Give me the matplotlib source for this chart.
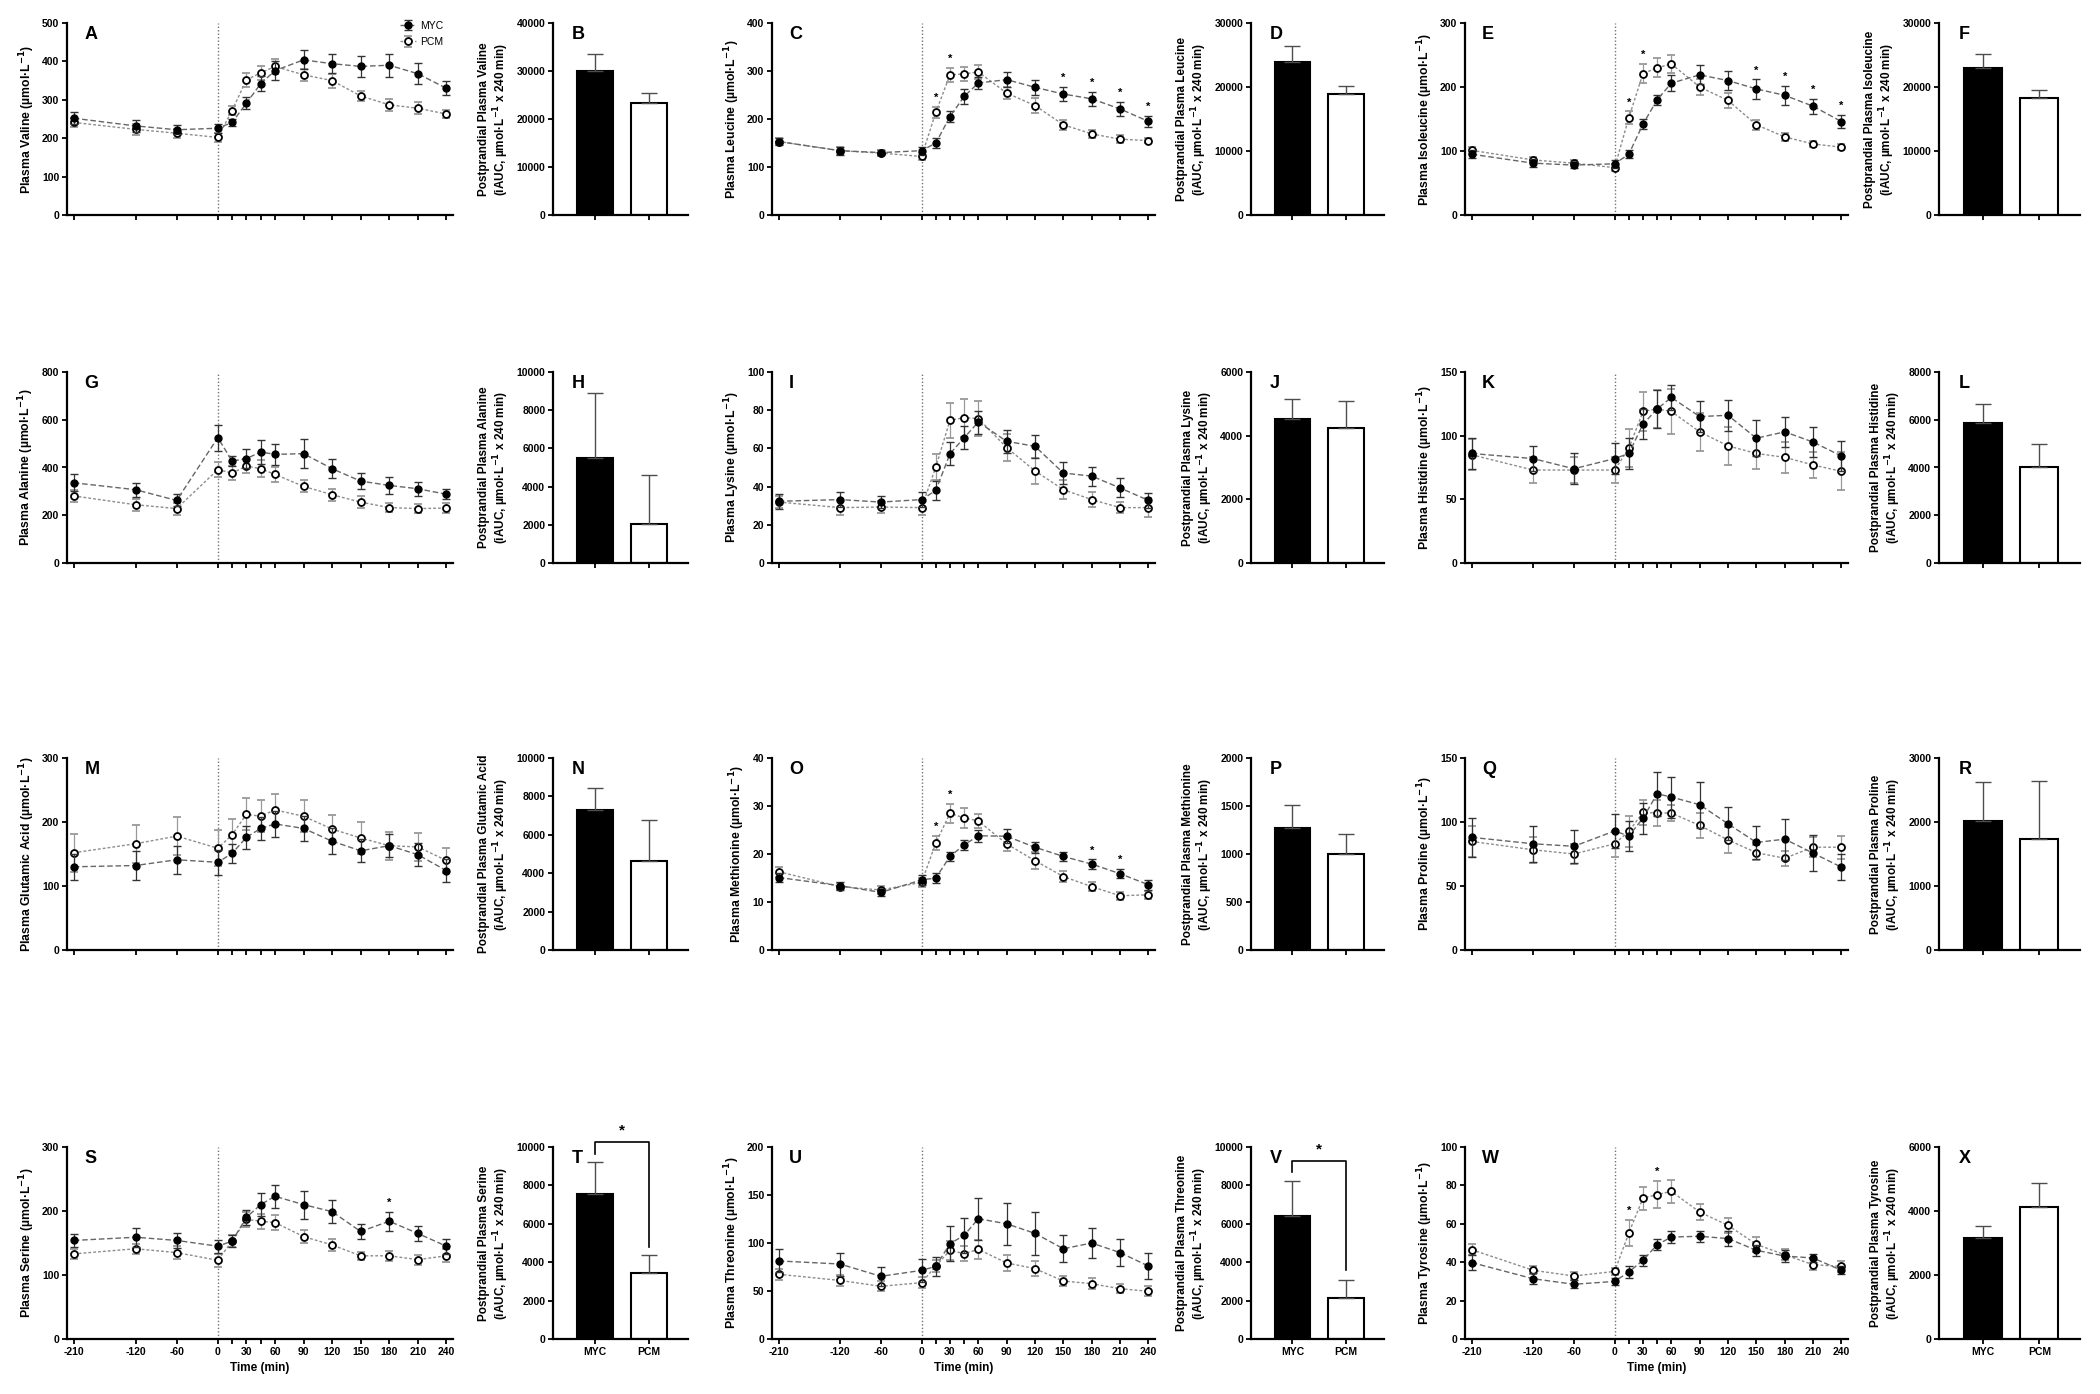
import numpy as np
import matplotlib
matplotlib.use("Agg")
import matplotlib.pyplot as plt

plt.rcParams['font.family'] = ['Liberation Sans', 'DejaVu Sans']
plt.rcParams['font.weight'] = 'bold'
plt.rcParams['axes.labelweight'] = 'bold'
plt.rcParams['axes.unicode_minus'] = False
plt.rcParams['mathtext.default'] = 'bf'

# time points (min) and labelled ticks
time = [-210, -120, -60, 0, 15, 30, 45, 60, 90, 120, 150, 180, 210, 240]
time_ticks = [-210, -120, -60, 0, 30, 60, 90, 120, 150, 180, 210, 240]
groups = ['MYC', 'PCM']

# ---- plasma concentrations (mean, error) ----
valine_myc = [252, 232, 222, 226, 241, 291, 342, 376, 404, 394, 387, 390, 368, 330]
valine_myc_err = [15, 15, 12, 12, 10, 15, 20, 25, 25, 25, 28, 30, 27, 18]
valine_pcm = [241, 223, 213, 202, 272, 352, 370, 387, 365, 350, 310, 287, 278, 263]
valine_pcm_err = [12, 15, 12, 12, 12, 18, 18, 20, 15, 18, 12, 15, 15, 10]

leucine_myc = [153, 134, 130, 134, 150, 205, 247, 275, 282, 266, 252, 242, 221, 195]
leucine_myc_err = [8, 8, 6, 8, 10, 12, 15, 12, 15, 15, 15, 15, 15, 12]
leucine_pcm = [153, 134, 129, 122, 214, 292, 294, 298, 254, 228, 188, 169, 158, 155]
leucine_pcm_err = [8, 8, 6, 8, 12, 15, 15, 15, 12, 15, 10, 8, 8, 6]

isoleucine_myc = [95, 81, 78, 80, 95, 142, 180, 206, 219, 210, 197, 187, 170, 146]
isoleucine_myc_err = [6, 6, 5, 6, 6, 8, 8, 12, 15, 15, 15, 15, 12, 10]
isoleucine_pcm = [101, 86, 81, 74, 152, 221, 230, 236, 200, 179, 141, 122, 111, 106]
isoleucine_pcm_err = [6, 5, 5, 6, 10, 15, 15, 14, 12, 12, 8, 6, 5, 5]

alanine_myc = [336, 307, 262, 525, 427, 437, 465, 455, 458, 395, 343, 325, 311, 288]
alanine_myc_err = [35, 30, 25, 55, 20, 40, 50, 45, 60, 40, 35, 35, 30, 20]
alanine_pcm = [281, 244, 228, 391, 377, 406, 395, 371, 321, 286, 255, 232, 228, 230]
alanine_pcm_err = [25, 25, 25, 30, 30, 30, 35, 30, 25, 25, 25, 20, 20, 20]

lysine_myc = [32.3, 33.2, 31.9, 33.2, 38, 57.2, 65.6, 73.8, 63.7, 61.1, 47.1, 45.5, 39.3, 32.8]
lysine_myc_err = [4, 4, 3, 4, 5, 6, 6, 6, 6, 6, 6, 5, 5, 4]
lysine_pcm = [31.9, 29, 29.3, 29, 50.3, 74.7, 76.1, 75.6, 60.4, 48.2, 38.4, 33.2, 29, 29]
lysine_pcm_err = [3, 4, 3, 4, 7, 9, 10, 9, 7, 7, 5, 4, 3, 5]

histidine_myc = [86, 82, 74, 82, 86, 109, 121, 130, 115, 116, 98, 103, 95, 84]
histidine_myc_err = [12, 10, 12, 12, 12, 12, 15, 10, 12, 12, 14, 12, 12, 12]
histidine_pcm = [85, 73, 73, 73, 90, 119, 121, 119, 103, 92, 86, 83, 77, 72]
histidine_pcm_err = [12, 10, 10, 10, 15, 15, 15, 18, 15, 15, 12, 12, 10, 15]

glutamic_myc = [130, 132, 141, 137, 151, 176, 190, 197, 190, 170, 155, 163, 149, 124]
glutamic_myc_err = [20, 22, 22, 20, 15, 18, 18, 20, 20, 20, 18, 18, 18, 18]
glutamic_pcm = [152, 166, 178, 159, 180, 212, 209, 219, 209, 189, 175, 163, 161, 140]
glutamic_pcm_err = [30, 30, 30, 28, 25, 25, 25, 25, 25, 22, 25, 22, 22, 20]

methionine_myc = [15.1, 13.4, 12.0, 14.6, 15.0, 19.5, 21.9, 23.8, 23.7, 21.4, 19.5, 17.9, 15.9, 13.6]
methionine_myc_err = [1, 0.8, 0.8, 1, 1, 1, 1, 1.2, 1.5, 1.2, 1, 1, 1, 1]
methionine_pcm = [16.3, 13.2, 12.5, 14.1, 22.3, 28.5, 27.5, 26.9, 22.1, 18.6, 15.3, 13.2, 11.3, 11.5]
methionine_pcm_err = [1, 0.8, 0.8, 1, 1.5, 2, 2, 1.5, 1.5, 1.8, 1.2, 1, 0.8, 0.8]

proline_myc = [88, 83, 81, 93, 89, 103, 122, 119.5, 113.5, 98.6, 84, 86.6, 75.7, 64.7]
proline_myc_err = [15, 14, 13, 13, 12, 12, 17, 16, 18, 13, 13, 16, 14, 10]
proline_pcm = [84.8, 78.3, 75, 83, 92.6, 107.5, 107, 107, 97.3, 86, 76, 71.7, 80.3, 80.3]
proline_pcm_err = [12, 10, 8, 10, 12, 10, 10, 6, 10, 10, 6, 6, 8, 9]

serine_myc = [154, 159, 154, 145, 153, 190, 210, 223, 210, 199, 168, 184, 165, 145]
serine_myc_err = [10, 15, 12, 10, 10, 12, 18, 18, 22, 18, 12, 15, 12, 12]
serine_pcm = [133, 141, 135, 123, 153, 187, 184, 182, 160, 147, 130, 130, 124, 130]
serine_pcm_err = [8, 8, 10, 10, 10, 12, 12, 12, 10, 10, 6, 8, 8, 10]

threonine_myc = [81.3, 78.1, 65.3, 71.5, 75.7, 99.3, 108, 125.3, 120, 110, 94, 100, 90, 76]
threonine_myc_err = [12, 12, 10, 12, 10, 18, 18, 22, 22, 22, 14, 16, 14, 14]
threonine_pcm = [67.4, 61, 54.9, 58.7, 76, 92.4, 88.9, 93.4, 79.2, 73.3, 60.4, 57.6, 52.4, 49.7]
threonine_pcm_err = [6, 6, 5, 6, 6, 10, 8, 10, 8, 8, 5, 6, 5, 5]

tyrosine_myc = [39.8, 31.4, 28.5, 30, 34.9, 41, 49.1, 53.1, 53.5, 52.3, 46.2, 43.2, 42.2, 35.8]
tyrosine_myc_err = [4, 3, 2, 2, 3, 3, 3, 3, 3, 4, 3, 3, 2, 2]
tyrosine_pcm = [46.5, 35.8, 32.8, 35.2, 55.2, 73.4, 75.2, 76.9, 66.1, 59.2, 49.3, 43.9, 38.7, 37.8]
tyrosine_pcm_err = [3, 2, 2, 2, 7, 6, 7, 6, 4, 4, 4, 3, 3, 3]

# ---- iAUC bars (MYC, PCM) and upper error ----
valine_auc = [30050, 23300];     valine_auc_err = [3550, 2100]
leucine_auc = [23900, 18900];    leucine_auc_err = [2550, 1250]
isoleucine_auc = [23000, 18260]; isoleucine_auc_err = [2200, 1240]
alanine_auc = [5500, 2060];      alanine_auc_err = [3420, 2560]
lysine_auc = [4534, 4250];       lysine_auc_err = [606, 840]
histidine_auc = [5864, 4020];    histidine_auc_err = [810, 980]
glutamic_auc = [7300, 4610];     glutamic_auc_err = [1135, 2150]
methionine_auc = [1270, 1002];   methionine_auc_err = [236, 208]
proline_auc = [2019, 1732];      proline_auc_err = [600, 903]
serine_auc = [7535, 3437];       serine_auc_err = [1685, 921]
threonine_auc = [6406, 2135];    threonine_auc_err = [1824, 920]
tyrosine_auc = [3156, 4125];     tyrosine_auc_err = [365, 750]

# significant time points (indices into time)
leucine_sig = [4, 5, 10, 11, 12, 13]
isoleucine_sig = [4, 5, 10, 11, 12, 13]
methionine_sig = [4, 5, 11, 12]
serine_sig = [11]
tyrosine_sig = [4, 6]

panels = [
    ('A', 'B', 'Valine', valine_myc, valine_myc_err, valine_pcm, valine_pcm_err, 500, 100, [],
     valine_auc, valine_auc_err, 40000, 10000),
    ('C', 'D', 'Leucine', leucine_myc, leucine_myc_err, leucine_pcm, leucine_pcm_err, 400, 100, leucine_sig,
     leucine_auc, leucine_auc_err, 30000, 10000),
    ('E', 'F', 'Isoleucine', isoleucine_myc, isoleucine_myc_err, isoleucine_pcm, isoleucine_pcm_err, 300, 100,
     isoleucine_sig, isoleucine_auc, isoleucine_auc_err, 30000, 10000),
    ('G', 'H', 'Alanine', alanine_myc, alanine_myc_err, alanine_pcm, alanine_pcm_err, 800, 200, [],
     alanine_auc, alanine_auc_err, 10000, 2000),
    ('I', 'J', 'Lysine', lysine_myc, lysine_myc_err, lysine_pcm, lysine_pcm_err, 100, 20, [],
     lysine_auc, lysine_auc_err, 6000, 2000),
    ('K', 'L', 'Histidine', histidine_myc, histidine_myc_err, histidine_pcm, histidine_pcm_err, 150, 50, [],
     histidine_auc, histidine_auc_err, 8000, 2000),
    ('M', 'N', 'Glutamic Acid', glutamic_myc, glutamic_myc_err, glutamic_pcm, glutamic_pcm_err, 300, 100, [],
     glutamic_auc, glutamic_auc_err, 10000, 2000),
    ('O', 'P', 'Methionine', methionine_myc, methionine_myc_err, methionine_pcm, methionine_pcm_err, 40, 10,
     methionine_sig, methionine_auc, methionine_auc_err, 2000, 500),
    ('Q', 'R', 'Proline', proline_myc, proline_myc_err, proline_pcm, proline_pcm_err, 150, 50, [],
     proline_auc, proline_auc_err, 3000, 1000),
    ('S', 'T', 'Serine', serine_myc, serine_myc_err, serine_pcm, serine_pcm_err, 300, 100, serine_sig,
     serine_auc, serine_auc_err, 10000, 2000),
    ('U', 'V', 'Threonine', threonine_myc, threonine_myc_err, threonine_pcm, threonine_pcm_err, 200, 50, [],
     threonine_auc, threonine_auc_err, 10000, 2000),
    ('W', 'X', 'Tyrosine', tyrosine_myc, tyrosine_myc_err, tyrosine_pcm, tyrosine_pcm_err, 100, 20, tyrosine_sig,
     tyrosine_auc, tyrosine_auc_err, 6000, 2000),
]

# significance brackets on the iAUC bars: letter -> (bracket y, left leg end, right leg end, star y)
brackets = {'T': (10260, 9650, 4790, 10500), 'V': (9270, 8700, 3576, 9500)}

FW, FH = 2100, 1394
line_x = [(67, 453), (772, 1155), (1465, 1848)]
bar_x = [(553, 688), (1251, 1384), (1939, 2080)]
row_y = [(23, 215), (372, 563), (758, 950), (1147, 1339)]


def rect(x0, x1, y0, y1):
    return [x0 / FW, 1 - y1 / FH, (x1 - x0) / FW, (y1 - y0) / FH]


def fwd(x):
    x = np.asarray(x, dtype=float)
    return np.where(x < 0, x * 0.72, x)


def inv(x):
    x = np.asarray(x, dtype=float)
    return np.where(x < 0, x / 0.72, x)


def style(ax):
    for s in ['top', 'right']:
        ax.spines[s].set_visible(False)
    for s in ['left', 'bottom']:
        ax.spines[s].set_linewidth(1.6)
    ax.tick_params(width=1.3, length=3.5, labelsize=7.5, pad=2)


fig = plt.figure(figsize=(21, 13.94), dpi=100)

for i, p in enumerate(panels):
    (let1, let2, name, myc, myc_e, pcm, pcm_e, ymax, ystep, sig,
     auc, auc_e, bmax, bstep) = p
    row, col = divmod(i, 3)
    bottom_row = row == 3

    # time course
    ax = fig.add_axes(rect(*line_x[col], *row_y[row]))
    ax.set_xscale('function', functions=(fwd, inv))
    ax.axvline(0, color='0.45', ls=(0, (1, 1.5)), lw=1, zorder=0)
    ax.errorbar(time, pcm, yerr=pcm_e, color='0.55', ls=(0, (2, 1.5)), lw=1, marker='o', ms=5,
                mfc='white', mec='black', mew=1.3, ecolor='0.6', elinewidth=0.9, capsize=3, label='PCM',
                zorder=3)
    ax.errorbar(time, myc, yerr=myc_e, color='0.4', ls=(0, (4, 2)), lw=1, marker='o', ms=5,
                mfc='black', mec='black', ecolor='0.2', elinewidth=0.9, capsize=3, label='MYC', zorder=4)
    for k in sig:
        top = max(myc[k] + myc_e[k], pcm[k] + pcm_e[k])
        ax.text(time[k], top + 0.02 * ymax, '*', ha='center', va='bottom', fontsize=8)
    ax.set_xlim(-220, 247)
    ax.set_ylim(0, ymax)
    ax.set_yticks(np.arange(0, ymax + ystep / 2, ystep))
    ax.set_xticks(time_ticks)
    ax.set_xticks([15, 45], minor=True)
    ax.tick_params(axis='x', which='minor', width=1.3, length=3.5)
    if bottom_row:
        ax.set_xticklabels([str(t) for t in time_ticks])
        ax.set_xlabel('Time (min)', fontsize=8.5, labelpad=4)
    else:
        ax.set_xticklabels([])
    ax.set_ylabel('Plasma ' + name + ' (µmol·L$^{-1}$)', fontsize=8.8, labelpad=4)
    style(ax)
    ax.text(0.045, 0.985, let1, transform=ax.transAxes, ha='left', va='top', fontsize=13)
    if i == 0:
        h, l = ax.get_legend_handles_labels()
        ax.legend(h[::-1], l[::-1], loc='upper right', bbox_to_anchor=(1.0, 1.06), frameon=False,
                  handlelength=1.6, handletextpad=0.4, labelspacing=0.6,
                  prop={'weight': 'normal', 'size': 7.5})

    # iAUC bars
    bx = fig.add_axes(rect(*bar_x[col], *row_y[row]))
    bx.bar([0, 1], auc, width=0.67, color=['black', 'white'], edgecolor='black', linewidth=1.5,
           yerr=[[0, 0], auc_e], error_kw=dict(ecolor='0.3', elinewidth=1, capsize=6, capthick=1))
    bx.set_xlim(-0.78, 1.72)
    bx.set_ylim(0, bmax)
    bx.set_yticks(np.arange(0, bmax + bstep / 2, bstep))
    bx.set_xticks([0, 1])
    if bottom_row:
        bx.set_xticklabels(groups)
    else:
        bx.set_xticklabels([])
    bx.set_ylabel('Postprandial Plasma ' + name + '\n(iAUC, µmol·L$^{-1}$ x 240 min)', fontsize=8.5,
                  labelpad=4, linespacing=1.1)
    style(bx)
    bx.text(0.14, 0.985, let2, transform=bx.transAxes, ha='left', va='top', fontsize=13)
    if let2 in brackets:
        yb, yl, yr, ys = brackets[let2]
        bx.plot([0, 0, 1, 1], [yl, yb, yb, yr], color='black', lw=1.2, clip_on=False)
        bx.text(0.5, ys, '*', ha='center', va='bottom', fontsize=11, clip_on=False)

fig.savefig('out.png', dpi=100)
